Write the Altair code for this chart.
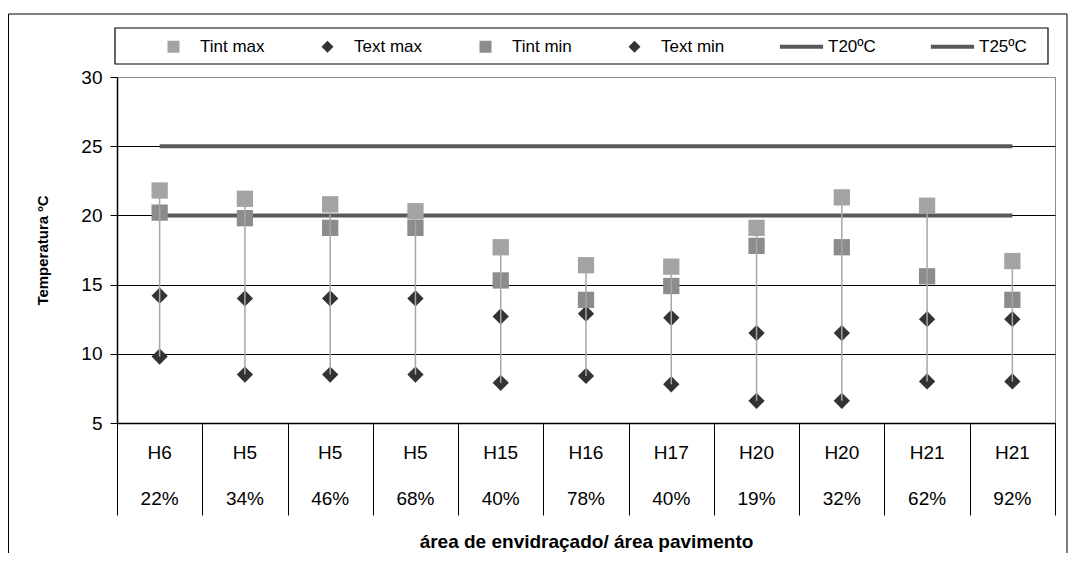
import altair as alt
import pandas as pd

# ---- data ----
names = ["H6", "H5", "H5", "H5", "H15", "H16", "H17", "H20", "H20", "H21", "H21"]
ratios = ["22%", "34%", "46%", "68%", "40%", "78%", "40%", "19%", "32%", "62%", "92%"]
tint_max = [21.8, 21.2, 20.8, 20.3, 17.7, 16.4, 16.3, 19.1, 21.3, 20.7, 16.7]
tint_min = [20.2, 19.8, 19.1, 19.1, 15.3, 13.9, 14.9, 17.8, 17.7, 15.6, 13.9]
text_max = [14.2, 14.0, 14.0, 14.0, 12.7, 12.9, 12.6, 11.5, 11.5, 12.5, 12.5]
text_min = [9.8, 8.5, 8.5, 8.5, 7.9, 8.4, 7.8, 6.6, 6.6, 8.0, 8.0]
ref_labels = ["T20ºC", "T25ºC"]
ref_values = [20, 25]
series = ["Tint max", "Text max", "Tint min", "Text min", "T20ºC", "T25ºC"]
y_ticks = [5, 10, 15, 20, 25, 30]

# ---- styles ----
FONT = "Liberation Sans"
series_colors = ["#a3a3a3", "#333333", "#8c8c8c", "#333333", "#595959", "#595959"]
line_sym = "M-3.6,-0.35H3.6V0.35H-3.6Z"
series_shapes = ["square", "diamond", "square", "diamond", line_sym, line_sym]

n = len(names)
idx = list(range(n))

pts_rows = []
for s, arr in [("Tint max", tint_max), ("Text max", text_max),
               ("Tint min", tint_min), ("Text min", text_min)]:
    for i, v in zip(idx, arr):
        pts_rows.append({"idx": i, "series": s, "value": v})
pts = pd.DataFrame(pts_rows)

wide = pd.DataFrame({"idx": idx, "tint_max": tint_max, "tint_min": tint_min,
                     "text_max": text_max, "text_min": text_min})
wide["hi"] = wide[["tint_max", "tint_min", "text_max", "text_min"]].max(axis=1)
wide["lo"] = wide[["tint_max", "tint_min", "text_max", "text_min"]].min(axis=1)

refs = pd.DataFrame({"series": ref_labels, "value": ref_values,
                     "x0": [idx[0]] * 2, "x1": [idx[-1]] * 2})
cats = pd.DataFrame({"idx": idx, "name": names, "ratio": ratios})
one = pd.DataFrame({"k": [0]})

xscale = alt.Scale(domain=[-0.5, n - 0.5], nice=False, zero=False)
yscale = alt.Scale(domain=[5, 30], nice=False, zero=False)

xaxis = alt.Axis(values=[i - 0.5 for i in range(n + 1)], labels=False, grid=False,
                 tickSize=92, tickColor="black", tickWidth=1,
                 domainColor="black", domainWidth=1.5,
                 title="área de envidraçado/ área pavimento", titleFont=FONT,
                 titleFontSize=19, titleFontWeight="bold", titleColor="black",
                 titleY=118, titleBaseline="middle")
yaxis = alt.Axis(values=y_ticks, grid=True,
                 gridColor=alt.condition("datum.value == 30", alt.value("#8c8c8c"), alt.value("black")),
                 gridWidth=1, tickSize=7, tickColor="black", domainColor="black",
                 domainWidth=1.5, labelFont=FONT, labelFontSize=19, labelColor="black",
                 labelPadding=8,
                 title="Temperatura ºC", titleFont=FONT, titleFontSize=15,
                 titleFontWeight="bold", titleColor="black", titleX=-75, titleY=173,
                 titleAngle=270, titleAlign="center", titleBaseline="middle")

legend = alt.Legend(orient="none", legendX=48, legendY=-39, direction="horizontal",
                    columns=6, columnPadding=54, symbolSize=144, symbolStrokeWidth=0,
                    symbolOpacity=1, labelFont=FONT, labelFontSize=17, labelColor="black",
                    labelOffset=18, title=None, padding=0)

ref_rules = alt.Chart(refs).mark_rule(color="#595959", strokeWidth=4).encode(
    x=alt.X("x0:Q", scale=xscale, axis=xaxis),
    x2="x1:Q",
    y=alt.Y("value:Q", scale=yscale, axis=yaxis),
)

points = alt.Chart(pts).mark_point(filled=True, opacity=1, size=265, strokeWidth=0).encode(
    x=alt.X("idx:Q", scale=xscale, axis=xaxis),
    y=alt.Y("value:Q", scale=yscale, axis=yaxis),
    color=alt.Color("series:N", scale=alt.Scale(domain=series, range=series_colors),
                    legend=legend, sort=series),
    shape=alt.Shape("series:N", scale=alt.Scale(domain=series, range=series_shapes),
                    legend=legend, sort=series),
)

hilo = alt.Chart(wide).mark_rule(color="#a6a6a6", strokeWidth=1.5).encode(
    x=alt.X("idx:Q", scale=xscale, axis=xaxis),
    y=alt.Y("lo:Q", scale=yscale, axis=yaxis),
    y2="hi:Q",
)

name_text = alt.Chart(cats).mark_text(font=FONT, fontSize=19, color="black",
                                      baseline="middle", align="center").encode(
    x=alt.X("idx:Q", scale=xscale, axis=xaxis),
    y=alt.value(376),
    text="name:N",
)
ratio_text = alt.Chart(cats).mark_text(font=FONT, fontSize=19, color="black",
                                       baseline="middle", align="center").encode(
    x=alt.X("idx:Q", scale=xscale, axis=xaxis),
    y=alt.value(422),
    text="ratio:N",
)

outer_box = alt.Chart(one).mark_rect(filled=False, stroke="black", strokeWidth=1).encode(
    x=alt.value(-108.5), x2=alt.value(950), y=alt.value(-63), y2=alt.value(500))
legend_box = alt.Chart(one).mark_rect(filled=False, stroke="black", strokeWidth=1.2).encode(
    x=alt.value(-2), x2=alt.value(931), y=alt.value(-49), y2=alt.value(-13))

chart = alt.layer(ref_rules, points, hilo, name_text, ratio_text, outer_box, legend_box).properties(
    width=938, height=346,
    autosize=alt.AutoSizeParams(type="none"),
    padding={"left": 109, "top": 69, "right": 13, "bottom": 130},
).configure(font=FONT).configure_view(stroke="#8c8c8c", strokeWidth=1)

chart.save("out.html", embed_options={"renderer": "svg", "actions": False})
